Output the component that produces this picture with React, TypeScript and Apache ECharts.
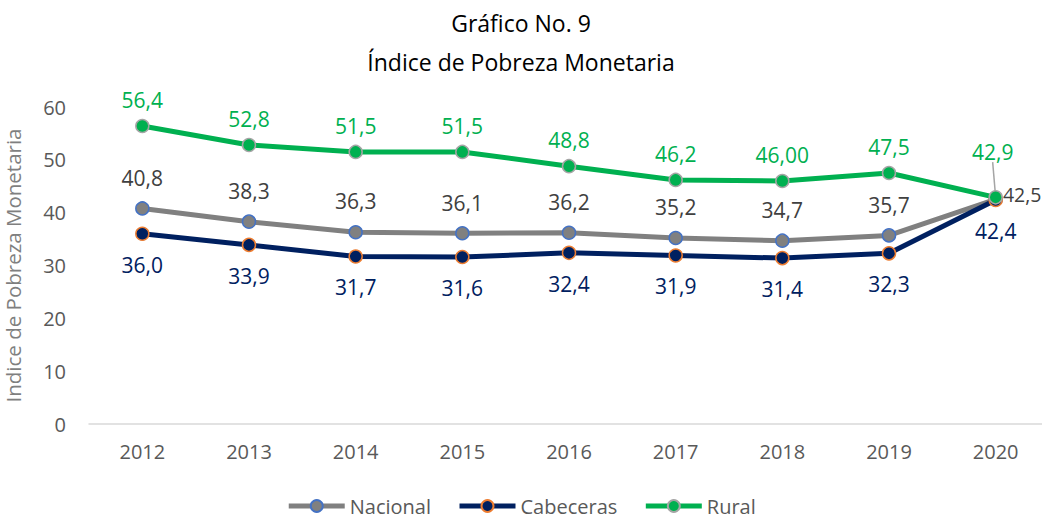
import React, { useEffect, useRef } from "react";
import * as echarts from "echarts";

const years = ["2012", "2013", "2014", "2015", "2016", "2017", "2018", "2019", "2020"];
const nacional = [40.8, 38.3, 36.3, 36.1, 36.2, 35.2, 34.7, 35.7, 42.5];
const cabeceras = [36.0, 33.9, 31.7, 31.6, 32.4, 31.9, 31.4, 32.3, 42.4];
const rural = [56.4, 52.8, 51.5, 51.5, 48.8, 46.2, 46.0, 47.5, 42.9];
const ruralLabels = ["56,4", "52,8", "51,5", "51,5", "48,8", "46,2", "46,00", "47,5", "42,9"];
const yTicks = [0, 10, 20, 30, 40, 50, 60];

const FONT = "'Open Sans', 'Noto Sans', sans-serif";
const fmt = (v: number) => v.toFixed(1).replace(".", ",");

export default function App() {
  const ref = useRef<HTMLDivElement>(null);
  useEffect(() => {
    if (!ref.current) return;
    const chart = echarts.init(ref.current, null, { renderer: "svg" });
    const last = years.length - 1;
    chart.setOption({
      animation: false,
      backgroundColor: "#ffffff",
      title: {
        text: "Gráfico No. 9\nÍndice de Pobreza Monetaria",
        left: "center",
        top: -2,
        textStyle: { fontFamily: FONT, fontSize: 23, fontWeight: "normal", color: "#000000", lineHeight: 39 },
      },
      grid: { left: 89, right: -7, top: 107, bottom: 94, containLabel: false, outerBoundsMode: "none" },
      legend: {
        bottom: -3,
        left: "center",
        itemWidth: 56,
        itemHeight: 15,
        itemGap: 26,
        lineStyle: { width: 5 },
        textStyle: { fontFamily: FONT, fontSize: 20, color: "#595959" },
        data: ["Nacional", "Cabeceras", "Rural"],
      },
      xAxis: {
        type: "category",
        data: years,
        boundaryGap: true,
        axisLine: { show: true, lineStyle: { color: "#d9d9d9", width: 1.5 } },
        axisTick: { show: false },
        axisLabel: { fontFamily: FONT, fontSize: 20, color: "#595959", margin: 17 },
      },
      yAxis: {
        type: "value",
        min: yTicks[0],
        max: yTicks[yTicks.length - 1],
        interval: 10,
        name: "Indice de Pobreza Monetaria",
        nameLocation: "middle",
        nameRotate: 90,
        nameGap: 66,
        nameTextStyle: { fontFamily: FONT, fontSize: 20.5, color: "#7f7f7f" },
        axisLine: { show: false },
        axisTick: { show: false },
        splitLine: { show: false },
        axisLabel: { fontFamily: FONT, fontSize: 20, color: "#595959", margin: 23 },
      },
      series: [
        {
          name: "Nacional",
          type: "line",
          data: nacional.map((v, i) =>
            i === last
              ? { value: v, label: { position: "right", offset: [-13, -5], fontSize: 19.5 } }
              : v
          ),
          symbol: "circle",
          symbolSize: 13,
          lineStyle: { color: "#808080", width: 5 },
          itemStyle: { color: "#808080", borderColor: "#4472C4", borderWidth: 1.5 },
          label: {
            show: true,
            position: "top",
            distance: 13,
            fontFamily: FONT,
            fontSize: 21,
            color: "#404040",
            formatter: (p: any) => fmt(p.value),
          },
          z: 2,
        },
        {
          name: "Cabeceras",
          type: "line",
          data: cabeceras,
          symbol: "circle",
          symbolSize: 13,
          lineStyle: { color: "#002060", width: 5 },
          itemStyle: { color: "#002060", borderColor: "#ED7D31", borderWidth: 1.5 },
          label: {
            show: true,
            position: "bottom",
            distance: 13,
            fontFamily: FONT,
            fontSize: 21,
            color: "#002060",
            formatter: (p: any) => fmt(p.value),
          },
          z: 3,
        },
        {
          name: "Rural",
          type: "line",
          data: rural.map((v, i) =>
            i === last ? { value: v, labelLine: { show: true } } : v
          ),
          symbol: "circle",
          symbolSize: 13,
          lineStyle: { color: "#00B050", width: 5 },
          itemStyle: { color: "#00B050", borderColor: "#A5A5A5", borderWidth: 1.5 },
          label: {
            show: true,
            position: "top",
            distance: 8,
            fontFamily: FONT,
            fontSize: 21,
            color: "#00B050",
            formatter: (p: any) => ruralLabels[p.dataIndex],
          },
          labelLayout: (p: any) => (p.dataIndex === last ? { dy: -20, dx: -3 } : {}),
          labelLine: { show: false, lineStyle: { color: "#a5a5a5", width: 1.5 } },
          z: 4,
        },
      ],
    });
    return () => chart.dispose();
  }, []);
  return (
    <div
      ref={ref}
      style={{ position: "fixed", left: 0, top: 0, width: 1042, height: 518 }}
    />
  );
}
